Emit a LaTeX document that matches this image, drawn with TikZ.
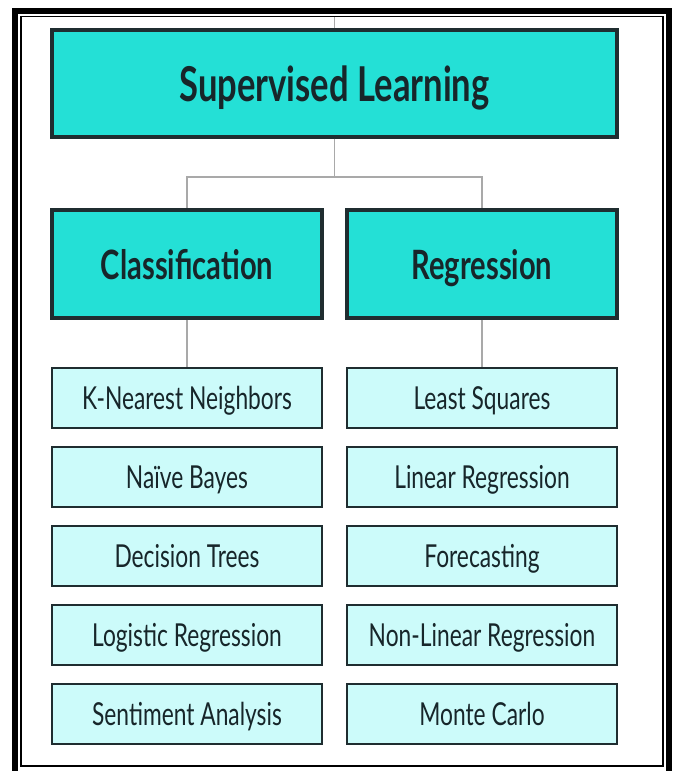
\documentclass[tikz,border=0pt]{standalone}
\usepackage{fontspec}
\setmainfont{Lato}
\newfontfamily\boxfont[FakeStretch=0.72]{Lato}
\usetikzlibrary{positioning}

\definecolor{headfill}{HTML}{24E0D6}
\definecolor{leaffill}{HTML}{CCFBFA}
\definecolor{boxline}{HTML}{1F2D30}
\definecolor{linkgray}{HTML}{A9A9A9}
\definecolor{textdark}{HTML}{17262A}

\begin{document}
\begin{tikzpicture}[
        x=0.03cm, y=-0.03cm,
        headbox/.style={draw=boxline, fill=headfill, line width=3pt, inner sep=0pt,
            text=textdark, text depth=0pt},
        leafbox/.style={draw=boxline, fill=leaffill, line width=2pt, inner sep=0pt,
            minimum width=8.1cm, minimum height=1.8cm, text=textdark,
            text height=19.8pt, text depth=0pt,
            font=\boxfont\fontsize{27}{31}\selectfont},
        link/.style={draw=linkgray, line width=1.6pt},
    ]
    \useasboundingbox (0,0) rectangle (674,771);

    % double frame
    \draw[line width=5pt] (15,11) rectangle (669,774);
    \draw[line width=1.6pt] (21,16.5) rectangle (663,766);

    % top levels
    \node[headbox, minimum width=16.95cm, minimum height=3.2cm, text height=31.5pt,
        font=\boxfont\bfseries\fontsize{41}{46}\selectfont] (sup) at (334.5,83.5) {Supervised Learning};
    \node[headbox, minimum width=8.1cm, minimum height=3.24cm, text height=27.3pt,
        font=\boxfont\bfseries\fontsize{34.5}{40}\selectfont] (cls) at (187,264) {Classification};
    \node[headbox, minimum width=8.1cm, minimum height=3.24cm, text height=27.3pt,
        font=\boxfont\bfseries\fontsize{34.5}{40}\selectfont] (reg) at (482,264) {Regression};

    % leaves
    \foreach \txt [count=\i] in {K-Nearest Neighbors, Naïve Bayes, Decision Trees,
            Logistic Regression, Sentiment Analysis}
        \node[leafbox] (cls\i) at (187,{398+79*(\i-1)}) {\txt};
    \foreach \txt [count=\i] in {Least Squares, Linear Regression, Forecasting,
            Non-Linear Regression, Monte Carlo}
        \node[leafbox] (reg\i) at (482,{398+79*(\i-1)}) {\txt};

    % connectors
    \coordinate (entry) at (sup.north |- 0,17);
    \coordinate (fork) at (sup.south |- 0,177);
    \draw[link] (entry) -- (sup.north);
    \draw[link] (sup.south) -- (fork) -| (cls.north);
    \draw[link] (fork) -| (reg.north);
    \draw[link] (cls.south) -- (cls1.north);
    \draw[link] (reg.south) -- (reg1.north);
\end{tikzpicture}
\end{document}
